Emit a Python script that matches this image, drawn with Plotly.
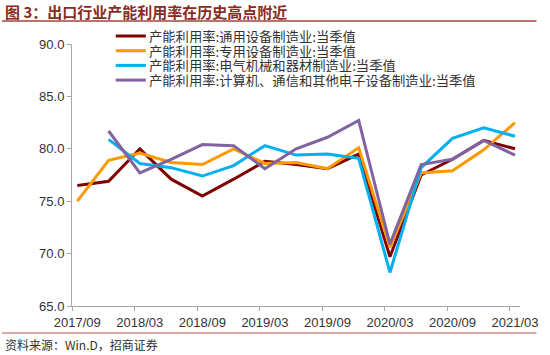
import plotly.graph_objects as go

# ---- data ----
quarters = ["2017/09", "2017/12", "2018/03", "2018/06", "2018/09", "2018/12",
            "2019/03", "2019/06", "2019/09", "2019/12", "2020/03", "2020/06",
            "2020/09", "2020/12", "2021/03"]
tick_labels = ["2017/09", "2018/03", "2018/09", "2019/03", "2019/09",
               "2020/03", "2020/09", "2021/03"]

general_equip = [76.5, 76.9, 80.0, 77.1, 75.5, 77.1, 78.8, 78.5, 78.1, 79.5,
                 69.7, 77.5, 79.0, 80.8, 80.0]
special_equip = [75.0, 78.9, 79.6, 78.7, 78.5, 80.0, 78.6, 78.7, 78.1, 80.1,
                 70.6, 77.7, 77.9, 79.9, 82.5]
electrical = [None, 80.9, 78.6, 78.2, 77.4, 78.4, 80.3, 79.4, 79.5, 79.1,
              68.2, 78.2, 81.0, 82.0, 81.2]
computer = [None, 81.7, 77.7, 79.0, 80.4, 80.3, 78.1, 80.0, 81.1, 82.7,
            70.9, 78.5, 79.0, 80.8, 79.4]

series_names = [
    "产能利用率:通用设备制造业:当季值",
    "产能利用率:专用设备制造业:当季值",
    "产能利用率:电气机械和器材制造业:当季值",
    "产能利用率:计算机、通信和其他电子设备制造业:当季值",
]
series_values = [general_equip, special_equip, electrical, computer]
series_colors = ["#800000", "#FF9900", "#00B0F0", "#8064A2"]

title_text = "图 3：出口行业产能利用率在历史高点附近"
source_text = "资料来源：Win.D，招商证券"

# ---- figure ----
W, H = 550, 355
ML, MR, MT, MB = 72, 17, 44, 49
PW, PH = W - ML - MR, H - MT - MB


def px_x(x):
    return (x - ML) / PW


def px_y(y):
    return (H - MB - y) / PH


x_idx = list(range(len(quarters)))
fig = go.Figure()
for name, vals, col in zip(series_names, series_values, series_colors):
    fig.add_trace(go.Scatter(x=x_idx, y=vals, mode="lines", name=name,
                             line=dict(color=col, width=3),
                             connectgaps=False, showlegend=False))
# helper (empty) trace so the tick-mark axis is drawn
fig.add_trace(go.Scatter(x=[None], y=[None], xaxis="x2", yaxis="y",
                         mode="lines", showlegend=False, hoverinfo="skip"))

offset = -0.17
xrange = [offset, len(quarters) - 1 + 0.16]
label_vals = [quarters.index(t) for t in tick_labels]
tick_mark_vals = [v + offset for v in label_vals]

fig.update_layout(
    width=W, height=H,
    margin=dict(l=ML, r=MR, t=MT, b=MB, pad=0),
    paper_bgcolor="white", plot_bgcolor="white",
    font=dict(family="Liberation Sans, Arial", size=13, color="#333333"),
    xaxis=dict(range=xrange, tickvals=label_vals,
               ticktext=tick_labels, showgrid=False, zeroline=False,
               showline=True, linecolor="#A6A6A6", linewidth=1,
               ticks="outside", ticklen=4, tickcolor="rgba(0,0,0,0)",
               ticklabeloverflow="allow",
               tickfont=dict(size=13, color="#333333")),
    xaxis2=dict(range=xrange, overlaying="x", anchor="y", side="bottom",
                tickvals=tick_mark_vals, showticklabels=False,
                showgrid=False, zeroline=False, showline=False,
                ticks="outside", ticklen=4, tickcolor="#A6A6A6"),
    yaxis=dict(range=[65, 90], dtick=5, tickformat=".1f", showgrid=False,
               zeroline=False, showline=True, linecolor="#A6A6A6", linewidth=1,
               ticks="outside", ticklen=4, tickcolor="#A6A6A6",
               tickfont=dict(size=13, color="#333333")),
)

# legend (custom, compact)
leg_y0, leg_dy = 36, 14.7
for k, (name, col) in enumerate(zip(series_names, series_colors)):
    yy = px_y(leg_y0 + k * leg_dy)
    fig.add_shape(type="line", xref="paper", yref="paper",
                  x0=px_x(117), x1=px_x(148), y0=yy, y1=yy,
                  line=dict(color=col, width=3))
    fig.add_annotation(xref="paper", yref="paper", x=px_x(149), y=yy,
                       xanchor="left", yanchor="middle", text=name,
                       showarrow=False, height=14,
                       font=dict(family="Noto Sans CJK SC", size=13.3,
                                 color="#333333"))

# title & source with rules
fig.add_annotation(xref="paper", yref="paper", x=px_x(1), y=px_y(11),
                   xanchor="left", yanchor="middle", text="<b>" + title_text + "</b>",
                   showarrow=False,
                   font=dict(family="Noto Sans CJK SC", size=15, color="#8B2A1E"))
fig.add_shape(type="line", xref="paper", yref="paper",
              x0=px_x(0), x1=px_x(W), y0=px_y(21), y1=px_y(21),
              line=dict(color="#A0453A", width=1.5))
fig.add_shape(type="line", xref="paper", yref="paper",
              x0=px_x(0), x1=px_x(W), y0=px_y(333), y1=px_y(333),
              line=dict(color="#C0504D", width=1))
fig.add_annotation(xref="paper", yref="paper", x=px_x(1), y=px_y(344),
                   xanchor="left", yanchor="middle", text=source_text,
                   showarrow=False,
                   font=dict(family="Noto Sans CJK SC", size=12, color="#333333"))

fig.write_html("out.html", config={"displayModeBar": False},
               post_script="document.body.style.margin='0';")
